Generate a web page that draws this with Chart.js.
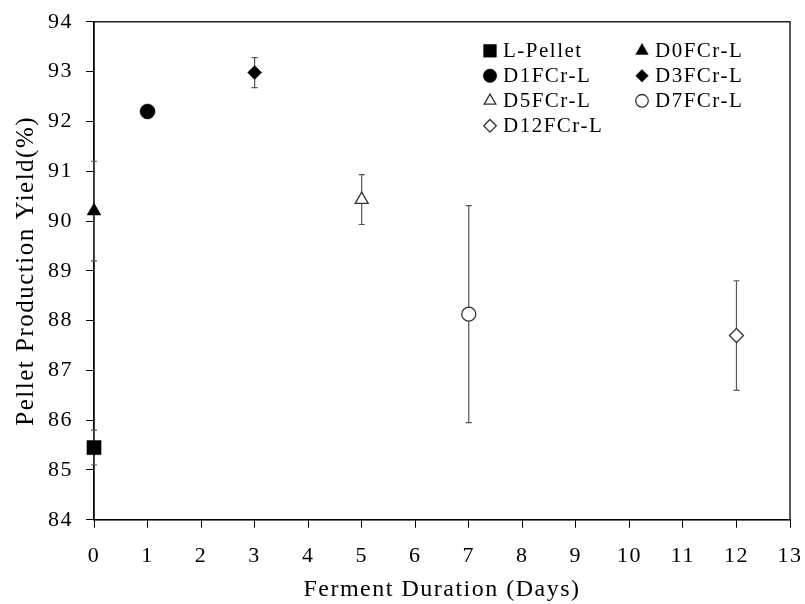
<!DOCTYPE html>
<html>
<head>
<meta charset="utf-8">
<script src="https://cdn.jsdelivr.net/npm/chart.js@4.4.0/dist/chart.umd.min.js"></script>
<style>
    html, body { margin: 0; padding: 0; background: #fff; }
    #wrap { width: 805px; height: 604px; }
</style>
</head>
<body>
<div id="wrap"><canvas id="yieldChart"></canvas></div>
<script>
/* Pellet production yield vs ferment duration */

const SERIES_LABELS = ['L-Pellet', 'D0FCr-L', 'D1FCr-L', 'D3FCr-L', 'D5FCr-L', 'D7FCr-L', 'D12FCr-L'];
const DAYS = [0, 0, 1, 3, 5, 7, 12];
const YIELD = [85.45, 90.2, 92.2, 92.98, 90.43, 88.13, 87.7];
const YIELD_ERR = [0.35, 1.0, 0.05, 0.3, 0.5, 2.18, 1.1];
const X_TICKS = [0, 1, 2, 3, 4, 5, 6, 7, 8, 9, 10, 11, 12, 13];
const Y_TICKS = [84, 85, 86, 87, 88, 89, 90, 91, 92, 93, 94];

// marker look per series (style, filled, radius)
const MARKERS = [
    { style: 'rect', filled: true, r: 10 },
    { style: 'triangle', filled: true, r: 8 },
    { style: 'circle', filled: true, r: 7.5 },
    { style: 'rectRot', filled: true, r: 7 },
    { style: 'triangle', filled: false, r: 7.5 },
    { style: 'circle', filled: false, r: 7 },
    { style: 'rectRot', filled: false, r: 7 },
];

const FONT = 'Liberation Serif, Times New Roman, serif';
const INK = '#000';
const SPACING = '1.5px'; // the source text is set a bit wide

const datasets = SERIES_LABELS.map((label, i) => ({
    label,
    data: [{ x: DAYS[i], y: YIELD[i] }],
    err: [YIELD_ERR[i]],
    pointStyle: MARKERS[i].style,
    pointRadius: MARKERS[i].r,
    pointBackgroundColor: MARKERS[i].filled ? '#000' : '#fff',
    pointBorderColor: MARKERS[i].filled ? '#000' : '#333',
    pointBorderWidth: MARKERS[i].filled ? 0.5 : 1.3,
    showLine: false,
    clip: false,
}));

// wide letter spacing for all canvas text (canvas resets state on resize)
const wideText = {
    id: 'wideText',
    beforeLayout(chart) { chart.ctx.letterSpacing = SPACING; },
    beforeDraw(chart) { chart.ctx.letterSpacing = SPACING; },
};

// vertical error bars with small caps
const errorBars = {
    id: 'errorBars',
    beforeDatasetsDraw(chart) {
        const { ctx, scales: { x, y } } = chart;
        ctx.save();
        ctx.strokeStyle = '#555';
        ctx.lineWidth = 1.2;
        chart.data.datasets.forEach(ds => {
            ds.data.forEach((p, j) => {
                const e = ds.err[j];
                const px = x.getPixelForValue(p.x);
                const top = y.getPixelForValue(p.y + e);
                const bot = y.getPixelForValue(p.y - e);
                ctx.beginPath();
                ctx.moveTo(px, top); ctx.lineTo(px, bot);
                ctx.moveTo(px - 3, top); ctx.lineTo(px + 3, top);
                ctx.moveTo(px - 3, bot); ctx.lineTo(px + 3, bot);
                ctx.stroke();
            });
        });
        ctx.restore();
    },
};

// box frame around plot area
const frame = {
    id: 'frame',
    beforeDatasetsDraw(chart) {
        const { ctx, chartArea: a } = chart;
        ctx.save();
        ctx.strokeStyle = INK;
        ctx.lineWidth = 1.3;
        ctx.strokeRect(a.left, a.top, a.right - a.left, a.bottom - a.top);
        ctx.restore();
    },
};

// two-column legend inside the plot, top right
const gridLegend = {
    id: 'gridLegend',
    afterDraw(chart) {
        const { ctx, chartArea: a } = chart;
        const col0 = a.right - 300;
        const colGap = 152;
        const row0 = a.top + 29;
        const rowGap = 25;
        ctx.save();
        ctx.font = '21px ' + FONT;
        ctx.textBaseline = 'middle';
        ctx.letterSpacing = SPACING;
        chart.data.datasets.forEach((ds, i) => {
            const cx = col0 + (i % 2) * colGap;
            const cy = row0 + Math.floor(i / 2) * rowGap;
            ctx.fillStyle = ds.pointBackgroundColor;
            ctx.strokeStyle = ds.pointBorderColor;
            ctx.lineWidth = ds.pointBorderWidth;
            Chart.helpers.drawPoint(ctx, { pointStyle: ds.pointStyle, radius: ds.pointRadius * 0.9, borderWidth: ds.pointBorderWidth }, cx, cy);
            ctx.fillStyle = INK;
            ctx.fillText(ds.label, cx + 13, cy + 1);
        });
        ctx.restore();
    },
};

new Chart(document.getElementById('yieldChart'), {
    type: 'scatter',
    data: { datasets },
    options: {
        responsive: true,
        maintainAspectRatio: false,
        animation: false,
        layout: { padding: { top: 21, right: 15, left: 11, bottom: 0 } },
        plugins: {
            legend: { display: false },
            tooltip: { enabled: false },
        },
        scales: {
            x: {
                type: 'linear',
                min: X_TICKS[0],
                max: X_TICKS[X_TICKS.length - 1],
                afterBuildTicks: s => { s.ticks = X_TICKS.map(v => ({ value: v })); },
                afterFit: s => { s.paddingRight = 0; },
                grid: { drawOnChartArea: false, drawTicks: true, tickLength: 8, color: INK },
                border: { color: INK, width: 1.3 },
                ticks: { color: INK, padding: 15, font: { family: FONT, size: 22 } },
                title: {
                    display: true,
                    text: 'Ferment Duration (Days)',
                    color: INK,
                    font: { family: FONT, size: 24 },
                    padding: { top: -9, bottom: 0 },
                },
            },
            y: {
                type: 'linear',
                min: Y_TICKS[0],
                max: Y_TICKS[Y_TICKS.length - 1],
                afterBuildTicks: s => { s.ticks = Y_TICKS.map(v => ({ value: v })); },
                grid: { drawOnChartArea: false, drawTicks: true, tickLength: 8, color: INK },
                border: { color: INK, width: 1.3 },
                ticks: { color: INK, padding: 13, font: { family: FONT, size: 22, lineHeight: 0.8 } },
                title: {
                    display: true,
                    text: 'Pellet Production Yield(%)',
                    color: INK,
                    font: { family: FONT, size: 25 },
                    padding: { top: 0, bottom: -6 },
                },
            },
        },
    },
    plugins: [wideText, frame, errorBars, gridLegend],
});
</script>
</body>
</html>
